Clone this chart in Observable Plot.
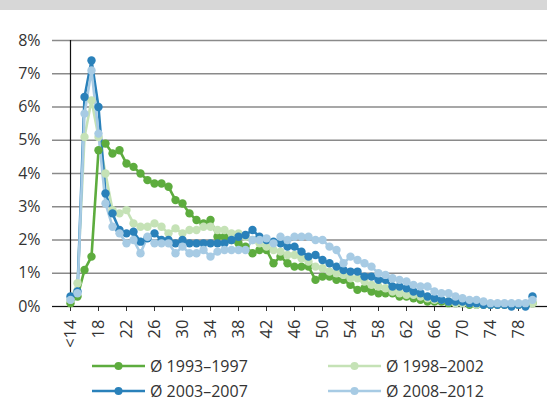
<!DOCTYPE html>
<html><head><meta charset="utf-8">
<script src="https://cdn.jsdelivr.net/npm/d3@7"></script>
<script src="https://cdn.jsdelivr.net/npm/@observablehq/plot@0.6"></script>
<style>
body{margin:0;background:#fff;font-family:"Open Sans",sans-serif;}
#band{height:10px;background:#d7d7d7;}
#wrap{position:relative;width:547px;height:391px;}
#chart{position:absolute;left:0;top:0;}
.leg{position:absolute;display:flex;align-items:center;font-size:16px;color:#333;height:22px;white-space:nowrap;}
.leg span{margin-left:5px;}
</style></head><body>
<div id="band"></div>
<div id="wrap"><div id="chart"></div><div id="legend"></div></div>
<script>
const ages = ["<14","15","16","17","18","19","20","21","22","23","24","25","26","27","28","29","30",
"31","32","33","34","35","36","37","38","39","40","41","42","43","44","45","46","47","48","49","50",
"51","52","53","54","55","56","57","58","59","60","61","62","63","64","65","66","67","68","69","70",
"71","72","73","74","75","76","77","78","79","80"];
const tickLabels = ["<14","18","22","26","30","34","38","42","46","50","54","58","62","66","70","74","78"];
const yTicks = [0,1,2,3,4,5,6,7,8];
const seriesNames = ["Ø 1993–1997","Ø 1998–2002","Ø 2003–2007","Ø 2008–2012"];
const seriesColors = ["#5dac3e","#c5e2b6","#2a81ba","#a7cbe4"];

const v1993 = [0.1,0.3,1.1,1.5,4.7,4.9,4.6,4.7,4.3,4.2,4.0,3.8,3.7,3.7,3.6,3.2,3.1,
2.8,2.6,2.5,2.6,2.1,2.1,2.0,1.9,1.8,1.6,1.7,1.7,1.3,1.5,1.3,1.2,1.2,1.2,0.8,0.9,
0.9,0.8,0.8,0.65,0.5,0.55,0.45,0.4,0.4,0.4,0.3,0.3,0.25,0.2,0.15,0.15,0.15,0.1,0.1,0.1,
0.05,0.05,0.05,0.05,0.05,0.05,0.05,0.05,0.05,0.1];
const v1998 = [0.2,0.7,5.1,6.2,5.1,4.0,2.9,2.8,2.9,2.5,2.4,2.4,2.5,2.4,2.2,2.35,2.2,
2.3,2.3,2.4,2.4,2.3,2.3,2.2,2.2,2.1,2.0,1.9,1.8,1.7,1.65,1.55,1.55,1.45,1.35,1.2,1.15,
1.05,1.0,0.95,0.85,0.85,0.75,0.65,0.6,0.55,0.45,0.4,0.35,0.35,0.3,0.25,0.2,0.2,0.15,0.1,0.1,
0.1,0.05,0.05,0.05,0.05,0.05,0.05,0.05,0.05,0.1];
const v2003 = [0.3,0.45,6.3,7.4,6.0,3.4,2.8,2.3,2.2,2.25,1.95,2.05,2.2,2.0,2.0,1.9,2.0,
1.9,1.9,1.9,1.9,1.9,1.9,2.0,2.1,2.15,2.3,2.1,2.0,1.95,1.9,1.8,1.8,1.65,1.5,1.55,1.4,
1.3,1.2,1.1,1.05,1.05,0.9,0.9,0.8,0.8,0.6,0.6,0.55,0.45,0.4,0.3,0.25,0.2,0.15,0.15,0.15,
0.1,0.1,0.05,0.05,0.05,0.05,0.0,0.05,0.0,0.3];
const v2008 = [0.2,0.4,5.8,7.1,5.2,3.1,2.4,2.2,1.9,2.0,1.6,2.1,1.9,1.9,1.9,1.6,1.8,
1.6,1.6,1.7,1.5,1.65,1.7,1.7,1.7,1.7,2.0,2.0,2.05,1.9,2.1,2.0,2.1,2.1,2.1,2.0,2.0,
1.8,1.7,1.3,1.5,1.4,1.3,1.2,1.0,0.95,0.85,0.8,0.75,0.65,0.6,0.6,0.45,0.4,0.4,0.3,0.25,
0.2,0.2,0.15,0.1,0.1,0.1,0.1,0.1,0.1,0.2];
const seriesValues = [v1993, v1998, v2003, v2008];

const rows = [];
seriesNames.forEach((s, k) => ages.forEach((a, i) => rows.push({age: a, value: seriesValues[k][i], series: s})));

const W = 547, H = 345;
const chart = Plot.plot({
  width: W, height: H,
  marginLeft: 52, marginRight: 0, marginTop: 30, marginBottom: 49,
  style: {fontFamily: "'Open Sans', sans-serif", fontSize: "16px", color: "#333", background: "transparent", overflow: "visible"},
  x: {type: "point", domain: ages, range: [57, 544], padding: 0},
  y: {domain: [0, 8], label: null},
  color: {domain: seriesNames, range: seriesColors},
  marks: [
    Plot.ruleY(yTicks, {stroke: "#8a8a8a", strokeWidth: 1.3}),
    Plot.axisY(yTicks, {tickSize: 0, tickPadding: 12, tickFormat: d => d + "%", fontSize: 16, label: null}),
    Plot.axisX(tickLabels, {tickSize: 5, tickPadding: 8, tickRotate: -90, fontSize: 16.5, label: null, stroke: "#333"}),
    Plot.ruleX(["<14"], {stroke: "#111", strokeWidth: 1.2}),
    Plot.ruleY([0], {stroke: "#111", strokeWidth: 1.2}),
    Plot.line(rows, {x: "age", y: "value", z: "series", stroke: "series", strokeWidth: 2.6}),
    Plot.dot(rows, {x: "age", y: "value", fill: "series", r: 4.2})
  ]
});
document.getElementById("chart").appendChild(chart);

const legendPos = [[92, 355.7],[328, 355.7],[92, 381],[328, 381]];
const leg = document.getElementById("legend");
seriesNames.forEach((s, k) => {
  const d = document.createElement("div");
  d.className = "leg";
  d.style.left = legendPos[k][0] + "px";
  d.style.top = (legendPos[k][1] - 11) + "px";
  d.innerHTML = `<svg width="53" height="22"><line x1="0" x2="53" y1="11" y2="11" stroke="${seriesColors[k]}" stroke-width="2.6"/><circle cx="26.5" cy="11" r="4" fill="${seriesColors[k]}"/></svg><span>${s}</span>`;
  leg.appendChild(d);
});
</script>
</body></html>
